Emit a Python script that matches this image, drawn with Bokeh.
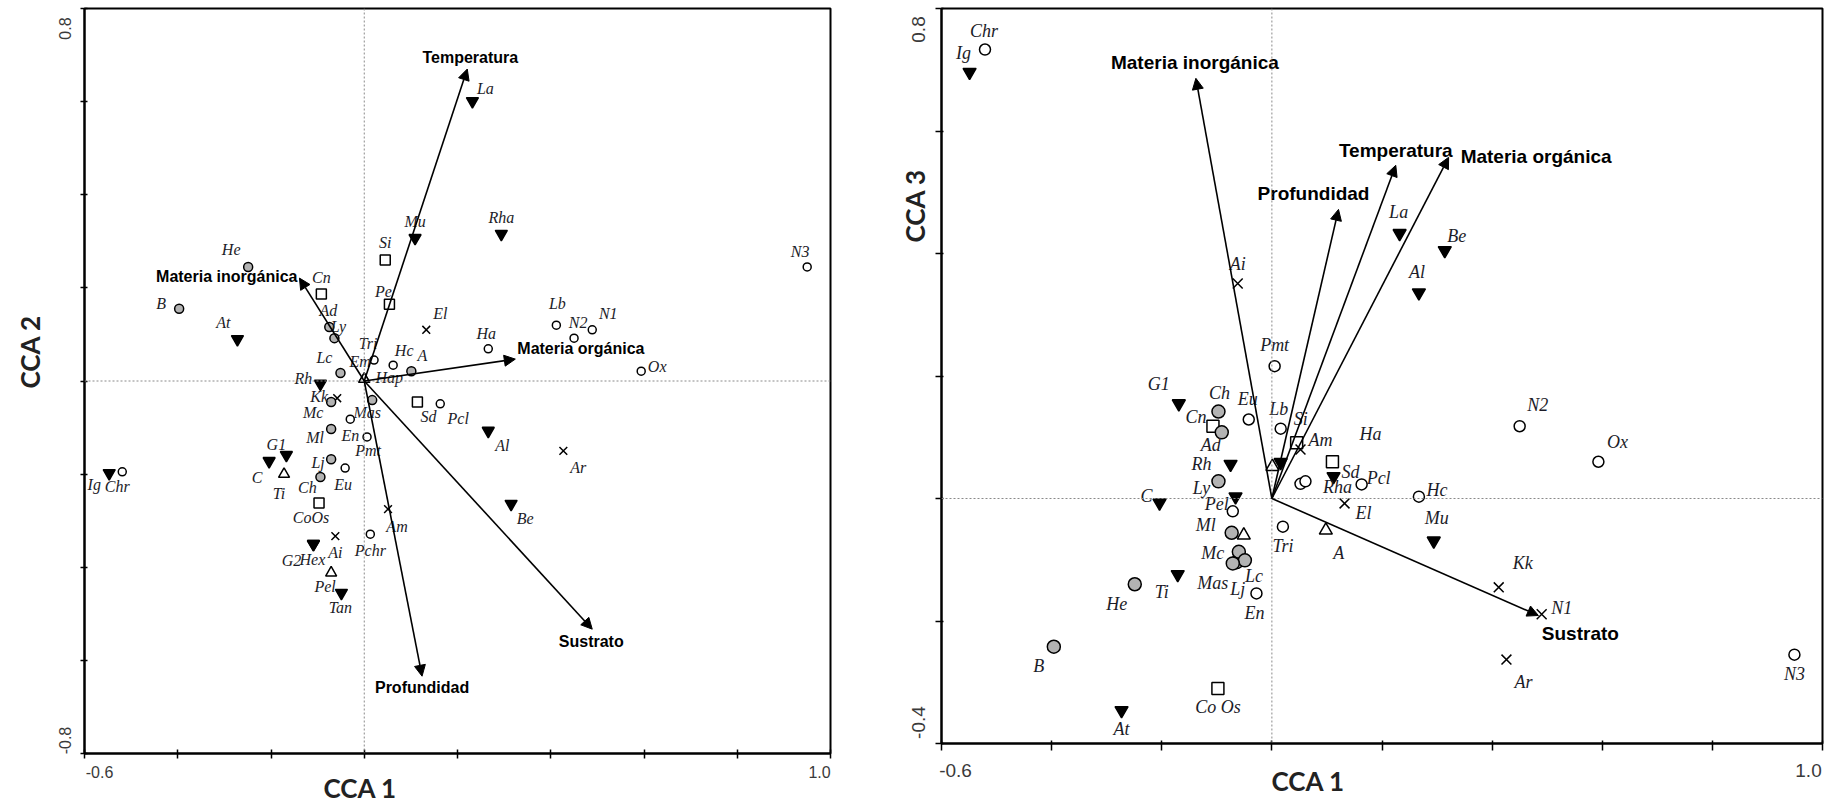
from bokeh.plotting import figure
from bokeh.models import (ColumnDataSource, Range1d, FixedTicker, Span, Arrow,
                          NormalHead, LinearAxis, CustomJSTickFormatter, Title)
from bokeh.layouts import row
from bokeh.core.properties import value
from bokeh.embed import file_html
from bokeh.resources import INLINE

# ------------------------------------------------------------------ data
# Panel A : CCA 1 vs CCA 2
A_SPECIES = ["He", "B", "At", "Cn", "Ad", "Ly", "Si", "Pe", "Mu", "El",
             "Tri", "Hc", "A", "Lc", "Rh", "Hap", "Em", "Kk", "Mc", "Mas",
             "Sd", "Pcl", "La", "Rha", "N3", "Lb", "N2", "N1", "Ha", "Ox",
             "Al", "Ar", "Be", "Ig", "Chr", "C", "G1", "Ti", "Ml", "En",
             "Pmt", "Lj", "Eu", "Ch", "CoOs", "Am", "Ai", "Pchr", "Hex", "G2",
             "Pel", "Tan"]
A_CCA1 = [-0.249, -0.397, -0.272, -0.092, -0.075, -0.064, 0.045, 0.054, 0.109, 0.133,
          0.021, 0.062, 0.101, -0.051, -0.094, 0.0, 0.0, -0.058, -0.071, 0.017,
          0.114, 0.163, 0.232, 0.294, 0.950, 0.412, 0.450, 0.489, 0.266, 0.594,
          0.266, 0.427, 0.315, -0.547, -0.519, -0.204, -0.167, -0.172, -0.071, -0.030,
          0.006, -0.071, -0.041, -0.094, -0.097, 0.051, -0.062, 0.013, -0.109, -0.109,
          -0.071, -0.049]
A_CCA2 = [0.245, 0.155, 0.090, 0.187, 0.116, 0.092, 0.260, 0.165, 0.307, 0.110,
          0.045, 0.034, 0.021, 0.017, -0.006, 0.004, 0.004, -0.037, -0.045, -0.041,
          -0.045, -0.049, 0.601, 0.316, 0.245, 0.120, 0.092, 0.110, 0.069, 0.021,
          -0.107, -0.150, -0.264, -0.198, -0.195, -0.172, -0.159, -0.200, -0.103, -0.082,
          -0.120, -0.168, -0.187, -0.206, -0.262, -0.275, -0.333, -0.329, -0.350, -0.350,
          -0.412, -0.455]
A_GROUP = ["grey", "grey", "down", "square", "grey", "grey", "square", "square", "down", "cross",
           "open", "open", "grey", "grey", "down", "up", "up", "cross", "grey", "grey",
           "square", "open", "down", "down", "open", "open", "open", "open", "open", "open",
           "down", "cross", "down", "down", "open", "down", "down", "up", "grey", "open",
           "open", "grey", "open", "grey", "square", "cross", "cross", "open", "down", "down",
           "up", "down"]

A_ENV = ["Temperatura", "Materia inorgánica", "Materia orgánica", "Profundidad", "Sustrato"]
A_ENV_CCA1 = [0.221, -0.139, 0.324, 0.124, 0.489]
A_ENV_CCA2 = [0.670, 0.221, 0.047, -0.634, -0.533]

# Panel B : CCA 1 vs CCA 3  ("" = point drawn without a name)
B_SPECIES = ["Chr", "Ig", "Ai", "Pmt", "G1", "Ch", "Cn", "Ad", "Eu", "Lb",
             "Si", "Am", "", "", "Rh", "Ly", "C", "", "Pel", "Sd",
             "Rha", "Ha", "", "Pcl", "El", "Hc", "Mu", "Kk", "N1", "Ar",
             "N3", "N2", "Ox", "La", "Be", "Al", "Ml", "", "Lj", "Mc",
             "Lc", "Mas", "En", "Tri", "A", "Ti", "He", "B", "Co Os", "At"]
B_CCA1 = [-0.521, -0.549, -0.062, 0.005, -0.169, -0.097, -0.107, -0.091, -0.042, 0.016,
          0.045, 0.052, 0.001, 0.016, -0.075, -0.097, -0.204, -0.066, -0.071, 0.110,
          0.112, 0.052, 0.061, 0.163, 0.132, 0.267, 0.294, 0.412, 0.490, 0.426,
          0.949, 0.450, 0.593, 0.232, 0.314, 0.267, -0.073, -0.051, -0.064, -0.060,
          -0.049, -0.071, -0.028, 0.020, 0.098, -0.171, -0.249, -0.396, -0.098, -0.273]
B_CCA3 = [0.733, 0.696, 0.351, 0.216, 0.155, 0.142, 0.118, 0.108, 0.129, 0.114,
          0.091, 0.080, 0.052, 0.059, 0.056, 0.028, -0.007, 0.003, -0.021, 0.060,
          0.036, 0.024, 0.028, 0.023, -0.008, 0.003, -0.069, -0.145, -0.189, -0.263,
          -0.255, 0.118, 0.060, 0.433, 0.405, 0.336, -0.056, -0.060, -0.104, -0.087,
          -0.101, -0.106, -0.155, -0.046, -0.052, -0.124, -0.140, -0.242, -0.310, -0.346]
B_GROUP = ["open", "down", "cross", "open", "down", "grey", "square", "grey", "open", "open",
           "square", "cross", "up", "down", "down", "grey", "down", "down", "open", "square",
           "down", "open", "open", "open", "cross", "open", "down", "cross", "cross", "cross",
           "open", "open", "open", "down", "down", "down", "grey", "up", "grey", "grey",
           "grey", "grey", "open", "open", "up", "down", "grey", "grey", "square", "down"]

B_ENV = ["Temperatura", "Materia inorgánica", "Materia orgánica", "Profundidad", "Sustrato"]
B_ENV_CCA1 = [0.225, -0.138, 0.321, 0.121, 0.484]
B_ENV_CCA3 = [0.544, 0.686, 0.557, 0.472, -0.191]

X_TICKS = [-0.6, -0.4, -0.2, 0.0, 0.2, 0.4, 0.6, 0.8, 1.0]
A_Y_TICKS = [-0.8, -0.6, -0.4, -0.2, 0.0, 0.2, 0.4, 0.6, 0.8]
B_Y_TICKS = [-0.4, -0.2, 0.0, 0.2, 0.4, 0.6, 0.8]
X_TICK_LABELS = ["-0.6", "1.0"]          # (low end, high end)
A_Y_TICK_LABELS = ["-0.8", "0.8"]
B_Y_TICK_LABELS = ["-0.4", "0.8"]

# ------------------------------------------------------------------ layout (pixels)
A_LBL_DX = [-17, -18, -14, 0, -1, 4, 0, -6, 0, 14,
            -6, 11, 11, -16, -17, 25, -4, -18, -18, -5,
            11, 18, 13, 0, -7, 1, 4, 16, -2, 16,
            14, 15, 14, -15, -5, -12, -10, -5, -16, 0,
            1, -13, -2, -13, -8, 9, 0, 0, -1, -22,
            -6, -1]
A_LBL_DY = [-17, -5, -17, -16, -16, -12, -17, -13, -17, -16,
            -17, -15, -16, -16, -5, -2, -18, -2, 11, 12,
            15, 15, -13, -16, -15, -22, -16, -16, -15, -5,
            15, 17, 15, 11, 15, 16, -11, 19, 9, 16,
            14, 3, 16, 11, 15, 17, 16, 16, 16, 17,
            14, 15]
A_ENV_DX = [3, -2, 2, 0, -1]
A_ENV_DY = [-12, -2, -11, 11, 12]
A_ENV_ALIGN = ["center", "right", "left", "center", "center"]

B_LBL_DX = [-1, -6, 0, 0, -20, 1, -17, -11, -1, -2,
            4, 20, 0, 0, -29, -17, -13, 0, -16, 18,
            4, 70, 0, 17, 19, 18, 3, 24, 20, 17,
            0, 18, 19, -1, 12, -2, -26, 0, 1, -26,
            9, -20, -2, 0, 13, -16, -18, -15, 0, 0]
B_LBL_DY = [-19, -19, -20, -21, -20, -19, -9, 13, -20, -20,
            -24, -10, 0, 0, 0, 7, -7, 0, -7, 10,
            11, -50, 0, -6, 10, -7, -23, -24, -6, 22,
            19, -21, -20, -21, -14, -21, -8, 0, 27, 1,
            16, 20, 20, 19, 23, 18, 20, 19, 19, 19]
B_ENV_DX = [0, -1, 12, -25, 42]
B_ENV_DY = [-15, -16, -1, -16, 18]
B_ENV_ALIGN = ["center", "center", "left", "center", "center"]

MARKER = {"open": "circle", "grey": "circle", "square": "square",
          "down": "inverted_triangle", "up": "triangle", "cross": "x"}
FILL = {"open": "white", "grey": "#b3b3b3", "square": "white",
        "down": "black", "up": "white", "cross": "black"}


def panel(names, xs, ys, groups, ldx, ldy, env, ex, ey, edx, edy, ealign,
          y_range, yticks, ytick_labels, ytitle, geo, sizes, fonts, ticks_io, lab):
    fw, fh, bl, bt, br, bb = geo
    fs_sp, fs_env, fs_tick, fs_title = fonts
    y0, y1 = y_range
    p = figure(x_range=Range1d(-0.6, 1.0), y_range=Range1d(y0, y1),
               frame_width=fw, frame_height=fh,
               min_border_left=bl, min_border_top=bt, min_border_right=br,
               min_border_bottom=bb, toolbar_location=None,
               output_backend="svg", x_axis_type=None, y_axis_type=None,
               background_fill_color="white", border_fill_color="white")
    p.outline_line_color = "black"
    p.outline_line_width = 2
    p.outline_line_alpha = 1.0

    # tick marks = minor ticks at the data ticks; labels = major ticks placed
    # a few pixels inside the ends (as in the original figure)
    xl = [-0.6 + lab["xt"][0] / fw * 1.6, 1.0 - lab["xt"][1] / fw * 1.6]
    yl = [y0 + lab["yt"][0] / fh * (y1 - y0), y1 - lab["yt"][1] / fh * (y1 - y0)]
    xa = LinearAxis(ticker=FixedTicker(ticks=xl, minor_ticks=X_TICKS),
                    formatter=CustomJSTickFormatter(args=dict(labels=X_TICK_LABELS),
                                                    code="return tick < 0 ? labels[0] : labels[1]"))
    ya = LinearAxis(ticker=FixedTicker(ticks=yl, minor_ticks=yticks),
                    formatter=CustomJSTickFormatter(args=dict(labels=ytick_labels),
                                                    code="return tick < 0 ? labels[0] : labels[1]"))
    ya.major_label_orientation = "vertical"
    for ax, (tin, tout), so in ((ya, ticks_io[0], lab["ys"]), (xa, ticks_io[1], lab["xs"])):
        ax.axis_line_width = 2
        ax.axis_line_color = "black"
        ax.major_tick_line_color = None
        ax.major_tick_in = 0
        ax.major_tick_out = 0
        ax.minor_tick_line_color = "black"
        ax.minor_tick_line_width = 1.5
        ax.minor_tick_in = tin
        ax.minor_tick_out = tout
        ax.major_label_standoff = so
        ax.major_label_text_font = "Liberation Sans"
        ax.major_label_text_font_size = fs_tick
        ax.major_label_text_color = "#3a3a3a"
    p.add_layout(xa, "below")
    p.add_layout(ya, "left")

    p.add_layout(Title(text="CCA 1", align="left", offset=lab["xtitle"][0],
                       standoff=lab["xtitle"][1], text_font="Lato",
                       text_font_style="bold", text_font_size=fs_title,
                       text_color="#222222"), "below")
    p.add_layout(Title(text=ytitle, align="left", offset=lab["ytitle"][0],
                       standoff=lab["ytitle"][1], text_font="Lato",
                       text_font_style="bold", text_font_size=fs_title,
                       text_color="#222222"), "left")

    for dim in ("height", "width"):
        p.add_layout(Span(location=0, dimension=dim, line_color="#8a8a8a",
                          line_dash="2 2", line_width=1))

    # environmental vectors
    esrc = ColumnDataSource(dict(x0=[0.0] * len(env), y0=[0.0] * len(env),
                                 x1=ex, y1=ey, name=env, dx=edx, dy=edy,
                                 align=ealign))
    p.add_layout(Arrow(end=NormalHead(size=11, fill_color="black",
                                      line_color="black", line_width=1),
                       x_start="x0", y_start="y0", x_end="x1", y_end="y1",
                       line_width=1.6, line_color="black", source=esrc))
    p.text(x="x1", y="y1", text="name", x_offset="dx", y_offset="dy",
           text_align="align", text_baseline="middle", source=esrc,
           text_font=value("Liberation Sans"), text_font_style="bold",
           text_font_size=fs_env, text_color="black")

    # species / sites
    src = ColumnDataSource(dict(
        x=xs, y=ys,
        marker=[MARKER[g] for g in groups],
        fill=[FILL[g] for g in groups],
        size=[sizes[g] for g in groups]))
    p.scatter(x="x", y="y", marker="marker", size="size", fill_color="fill",
              line_color="black", line_width=1.5, source=src)

    keep = [i for i, n in enumerate(names) if n]
    lsrc = ColumnDataSource(dict(
        x=[xs[i] for i in keep], y=[ys[i] for i in keep],
        t=[names[i] for i in keep],
        dx=[ldx[i] for i in keep], dy=[ldy[i] for i in keep]))
    p.text(x="x", y="y", text="t", x_offset="dx", y_offset="dy",
           text_align="center", text_baseline="middle", source=lsrc,
           text_font=value("Liberation Serif"), text_font_style="italic",
           text_font_size=fs_sp, text_color="#1c1c28")
    return p


p1 = panel(A_SPECIES, A_CCA1, A_CCA2, A_GROUP, A_LBL_DX, A_LBL_DY,
           A_ENV, A_ENV_CCA1, A_ENV_CCA2, A_ENV_DX, A_ENV_DY, A_ENV_ALIGN,
           (-0.8, 0.8), A_Y_TICKS, A_Y_TICK_LABELS, "CCA 2",
           (746, 745, 84, 7, 70, 52),
           {"open": 8, "grey": 9, "square": 10, "down": 12, "up": 11, "cross": 11},
           ("16px", "16px", "16px", "26px"), ((3, 4), (4, 5)),
           {"xt": (15, 11), "yt": (13, 20), "xs": 7, "ys": 10,
            "xtitle": (239, -22), "ytitle": (365, 19)})

p2 = panel(B_SPECIES, B_CCA1, B_CCA3, B_GROUP, B_LBL_DX, B_LBL_DY,
           B_ENV, B_ENV_CCA1, B_ENV_CCA3, B_ENV_DX, B_ENV_DY, B_ENV_ALIGN,
           (-0.4, 0.8), B_Y_TICKS, B_Y_TICK_LABELS, "CCA 3",
           (881, 735, 41, 8, 5, 61),
           {"open": 11, "grey": 13, "square": 12, "down": 13, "up": 13, "cross": 14},
           ("18px", "19px", "19px", "26px"), ((2, 6), (3, 7)),
           {"xt": (14, 14), "yt": (21, 21), "xs": 13, "ys": 11,
            "xtitle": (330, -35), "ytitle": (501, -45)})

layout = row(p1, p2)
open("out.html", "w").write(file_html(layout, INLINE))
